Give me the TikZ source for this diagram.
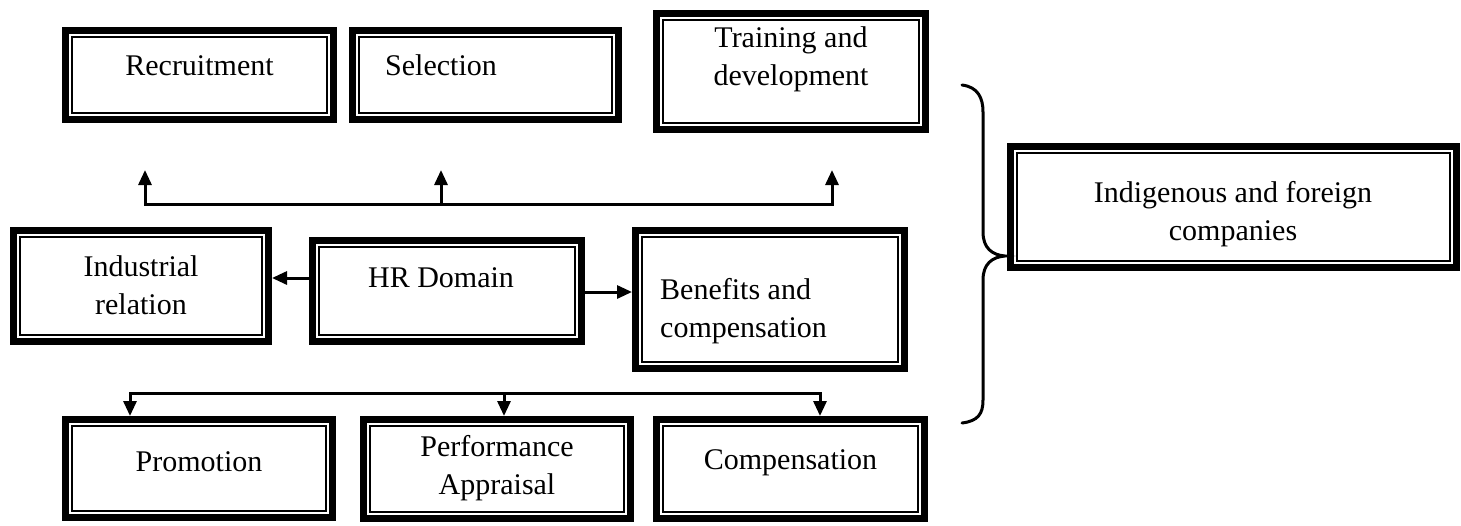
\documentclass[tikz,border=0pt]{standalone}
\usepackage{fontspec}
\setmainfont{Liberation Serif}
\usetikzlibrary{arrows.meta}
\begin{document}
\begin{tikzpicture}[x=1pt,y=-1pt,
  hrbox/.style={draw, line width=7pt, inner sep=0pt, outer sep=3.5pt,
    path picture={\draw[line width=2pt]
      ([shift={(6.5pt,-6.5pt)}]path picture bounding box.north west) rectangle
      ([shift={(-6.5pt,6.5pt)}]path picture bounding box.south east);}},
  lbl/.style={font=\fontsize{30}{38}\selectfont, inner sep=0pt, align=center, anchor=base},
  lbll/.style={font=\fontsize{30}{38}\selectfont, inner sep=0pt, align=left, anchor=base west},
  conn/.style={line width=3pt},
  arr/.style={conn, -{Triangle[length=15pt,width=13pt]}},
  brace/.style={line width=3pt, line cap=round}
]
\useasboundingbox (0,0) rectangle (1461,525);

% boxes
\node[hrbox, minimum width=268pt, minimum height=89pt]  (rec) at (199.5,75) {};
\node[hrbox, minimum width=266pt, minimum height=89pt]  (sel) at (485.5,75) {};
\node[hrbox, minimum width=269pt, minimum height=116pt] (trn) at (791,71.5) {};
\node[hrbox, minimum width=446pt, minimum height=121pt] (ind) at (1233.5,207) {};
\node[hrbox, minimum width=255pt, minimum height=111pt] (irl) at (141,286) {};
\node[hrbox, minimum width=269pt, minimum height=101pt] (hrd) at (447,291) {};
\node[hrbox, minimum width=269pt, minimum height=138pt] (ben) at (770,299.5) {};
\node[hrbox, minimum width=267pt, minimum height=98pt]  (pro) at (199,468.5) {};
\node[hrbox, minimum width=267pt, minimum height=99pt]  (per) at (497,469) {};
\node[hrbox, minimum width=268pt, minimum height=99pt]  (cmp) at (790.5,469) {};

% texts (base anchor = baseline of last line)
\node[lbl] (recT) at (199.5,75) {Recruitment};
\node[lbl] (selT) at (441,75) {Selection};
\node[lbl] (trnT) at (791,85) {Training and\\development};
\node[lbl] (indT) at (1233,240) {Indigenous and foreign\\companies};
\node[lbl] (irlT) at (141,314) {Industrial\\relation};
\node[lbl] (hrdT) at (441,287) {HR Domain};
\node[lbll] (benT) at (660,337) {Benefits and\\compensation};
\node[lbl] (proT) at (199,471) {Promotion};
\node[lbl] (perT) at (497,494) {Performance\\Appraisal};
\node[lbl] (cmpT) at (790.5,469) {Compensation};

% upper connector
\coordinate (upbar) at (441,204);
\coordinate (ua) at (145,170);
\coordinate (ub) at (441,170);
\coordinate (uc) at (832,170);
\draw[arr] (ub |- upbar) -- (ua |- upbar) -- (ua);
\draw[arr] (ub |- upbar) -- (uc |- upbar) -- (uc);
\draw[arr] (ub |- upbar) -- (ub);

% side arrows
\draw[arr] ([yshift=13pt]hrd.west) -- ([yshift=13pt]hrd.west -| irl.east);
\draw[arr] ([yshift=-1pt]hrd.east) -- ([yshift=-1pt]hrd.east -| ben.west);

% lower connector
\coordinate (dbar) at (504,393);
\coordinate (da) at (130,393);
\coordinate (dc) at (820,393);
\draw[arr] (dbar) -- (da) -- (da |- pro.north);
\draw[arr] (dbar) -- (dc) -- (dc |- cmp.north);
\draw[arr] (dbar) -- (dbar |- per.north);

% brace
\coordinate (bt) at (962,85);
\coordinate (bm) at (1005,256);
\coordinate (bb) at (962,423);
\draw[brace] (bt) .. controls (978,87) and (983,98) .. (983,112) -- (983,232)
  .. controls (983,248) and (992,255) .. (bm)
  .. controls (992,257) and (983,264) .. (983,280) -- (983,400)
  .. controls (983,414) and (978,421) .. (bb);
\end{tikzpicture}
\end{document}
